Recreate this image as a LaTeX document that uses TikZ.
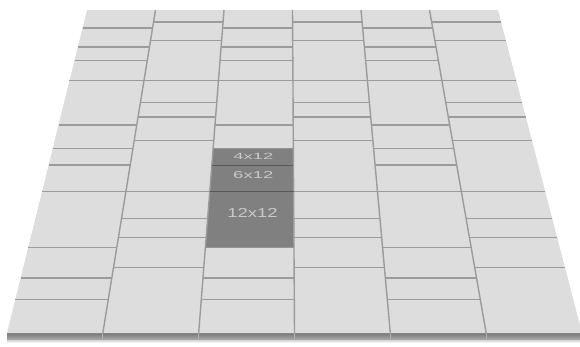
\documentclass[tikz,border=0pt]{standalone}
\usepackage{fontspec}
\setmainfont{Liberation Sans}
\usetikzlibrary{calc}
\definecolor{floorc}{RGB}{221,221,221}
\definecolor{groutc}{RGB}{155,155,155}
\definecolor{darkt}{RGB}{128,128,128}
\definecolor{darksep}{RGB}{88,88,88}
\definecolor{labelc}{RGB}{202,202,202}
\definecolor{facetop}{RGB}{120,120,120}
\definecolor{facebot}{RGB}{165,165,165}
\newcommand{\FPt}[3]{%
  \pgfmathsetmacro\fpS{1/(1+(#3)/195.5)}%
  \pgfmathsetmacro\fpX{287.5+7*\fpS+((#2)-36)*7.9861*\fpS}%
  \pgfmathsetmacro\fpY{-799.5+1132.5*\fpS}%
  \coordinate (#1) at (\fpX,\fpY);}
\tikzset{
  grout/.style={draw=groutc,line width=1.4pt},
  darksepline/.style={draw=darksep,line width=1.3pt},
  tilelabel/.style={text=labelc,inner sep=0pt,anchor=center}
}
\begin{document}
\begin{tikzpicture}[x=1pt,y=-1pt]
\useasboundingbox (0,0) rectangle (580,347);
\clip (0,0) rectangle (580,347);
% floor corners
\FPt{F00}{0}{0}\FPt{F10}{72}{0}\FPt{F11}{72}{78}\FPt{F01}{0}{78}
% shadow and front face
\shade[top color=gray!45,bottom color=white] ($(F00)+(0,6)$) -- ($(F10)+(0,6)$) -- ($(F10)+(0,10)$) -- ($(F00)+(0,10)$) -- cycle;
\shade[top color=facetop,bottom color=facebot] (F00) -- (F10) -- ($(F10)+(0,6)$) -- ($(F00)+(0,6)$) -- cycle;
% floor top
\fill[floorc] (F00) -- (F10) -- (F11) -- (F01) -- cycle;
% dark tiles
\FPt{D0l}{24}{16}\FPt{D0r}{36}{16}\FPt{D1l}{24}{28}\FPt{D1r}{36}{28}
\FPt{D2l}{24}{34}\FPt{D2r}{36}{34}\FPt{D3l}{24}{38}\FPt{D3r}{36}{38}
\fill[darkt] (D0l) -- (D0r) -- (D3r) -- (D3l) -- cycle;
% column lines
\foreach \c in {1,...,5}{
  \FPt{cb\c}{12*\c}{0}\FPt{ct\c}{12*\c}{78}
  \draw[grout] (cb\c) -- (ct\c);
  \draw[draw=gray!60,line width=0.8pt] (cb\c) -- ($(cb\c)+(0,6)$);
}
% horizontal joints, pattern A
\foreach \c in {0,2,4}{
  \foreach \v in {6,10,28,44,56,62,66,72}{
    \FPt{ha}{12*\c}{\v}\FPt{hb}{12*\c+12}{\v}
    \draw[grout] (ha) -- (hb);
  }
}
\foreach \c in {0,4}{
  \foreach \v in {16,34,38}{
    \FPt{ha}{12*\c}{\v}\FPt{hb}{12*\c+12}{\v}
    \draw[grout] (ha) -- (hb);
  }
}
% horizontal joints, pattern B
\foreach \c in {1,3,5}{
  \foreach \v in {12,18,22,28,40,46,50,56,68,74}{
    \FPt{ha}{12*\c}{\v}\FPt{hb}{12*\c+12}{\v}
    \draw[grout] (ha) -- (hb);
  }
}
% separators inside the dark tiles
\draw[darksepline] (D1l) -- (D1r);
\draw[darksepline] (D2l) -- (D2r);
\draw[draw=groutc!70!darkt,line width=1pt] (D0l) -- (D0r);
\draw[draw=groutc!70!darkt,line width=1pt] (D3l) -- (D3r);
% labels
\node[tilelabel,font=\fontsize{9}{9}\selectfont,xscale=2.05] (l4) at (253.3,156.3) {4x12};
\node[tilelabel,font=\fontsize{10}{10}\selectfont,xscale=1.85] (l6) at (253.3,175.5) {6x12};
\node[tilelabel,font=\fontsize{13}{13}\selectfont,xscale=1.42] (l12) at (252.5,212.8) {12x12};
\end{tikzpicture}
\end{document}
